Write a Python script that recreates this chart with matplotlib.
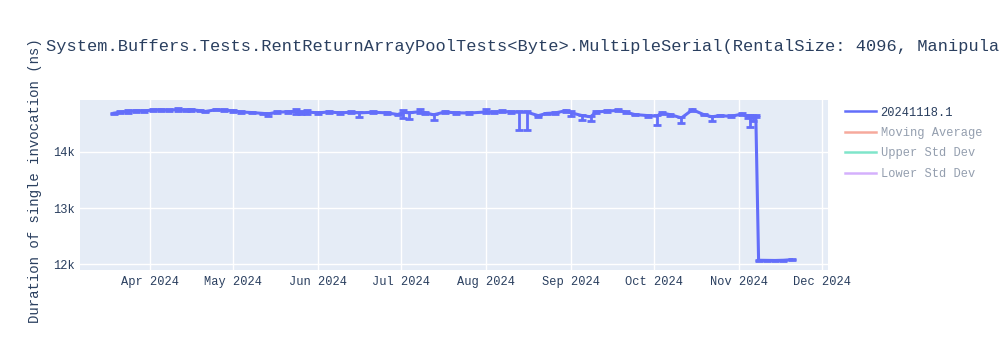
import matplotlib
matplotlib.use("Agg")
import matplotlib.pyplot as plt
import matplotlib.dates as mdates
from matplotlib.lines import Line2D
import numpy as np
import pandas as pd

# benchmark run values (ns) with the spread shown as error bars
dates = ["2024-03-19", "2024-03-21", "2024-03-24", "2024-03-27", "2024-03-30",
         "2024-04-02", "2024-04-05", "2024-04-08", "2024-04-11", "2024-04-14",
         "2024-04-16", "2024-04-19", "2024-04-21", "2024-04-25", "2024-04-28",
         "2024-05-01", "2024-05-04", "2024-05-08", "2024-05-12", "2024-05-14",
         "2024-05-17", "2024-05-21", "2024-05-24", "2024-05-26", "2024-05-28",
         "2024-06-01", "2024-06-05", "2024-06-09", "2024-06-13", "2024-06-16",
         "2024-06-21", "2024-06-26", "2024-06-30", "2024-07-02", "2024-07-04",
         "2024-07-08", "2024-07-10", "2024-07-13", "2024-07-17", "2024-07-21",
         "2024-07-26", "2024-08-01", "2024-08-04", "2024-08-07", "2024-08-10",
         "2024-08-13", "2024-08-16", "2024-08-20", "2024-08-23", "2024-08-26",
         "2024-08-30", "2024-09-01", "2024-09-05", "2024-09-08", "2024-09-10",
         "2024-09-14", "2024-09-18", "2024-09-21", "2024-09-24", "2024-09-29",
         "2024-10-02", "2024-10-04", "2024-10-07", "2024-10-11", "2024-10-15",
         "2024-10-19", "2024-10-22", "2024-10-25", "2024-10-29", "2024-11-02",
         "2024-11-04", "2024-11-05", "2024-11-06", "2024-11-07", "2024-11-08",
         "2024-11-11", "2024-11-14", "2024-11-17", "2024-11-20"]
values = [14685, 14700, 14715, 14727, 14725,
          14740, 14745, 14735, 14750, 14735,
          14745, 14730, 14714, 14745, 14735,
          14727, 14705, 14695, 14680, 14672,
          14700, 14710, 14715, 14700, 14705,
          14690, 14705, 14690, 14700, 14690,
          14700, 14690, 14660, 14700, 14690,
          14710, 14690, 14655, 14705, 14690,
          14687, 14705, 14700, 14717, 14705,
          14700, 14700, 14640, 14680, 14687,
          14728, 14690, 14640, 14620, 14705,
          14720, 14735, 14700, 14660, 14640,
          14630, 14687, 14657, 14600, 14746,
          14660, 14620, 14640, 14628, 14669,
          14620, 14640, 14610, 14640, 12072,
          12070, 12068, 12072, 12082]
err_lo = [10, 15, 20, 15, 15,
          20, 25, 15, 20, 15,
          20, 15, 15, 10, 15,
          15, 15, 10, 10, 40,
          15, 15, 40, 30, 30,
          15, 15, 15, 15, 80,
          15, 15, 15, 100, 110,
          20, 15, 100, 20, 15,
          15, 15, 15, 20, 15,
          310, 310, 25, 15, 15,
          15, 60, 70, 70, 15,
          15, 15, 15, 15, 20,
          150, 15, 15, 90, 15,
          15, 70, 15, 15, 15,
          30, 210, 70, 30, 8,
          8, 8, 8, 10]
err_hi = [10, 15, 20, 15, 15,
          20, 15, 15, 20, 15,
          15, 15, 10, 10, 15,
          15, 15, 10, 10, 10,
          15, 15, 40, 20, 30,
          15, 15, 15, 15, 15,
          15, 15, 15, 45, 15,
          50, 15, 15, 15, 15,
          15, 55, 15, 20, 15,
          20, 20, 15, 15, 15,
          15, 30, 15, 15, 15,
          15, 15, 15, 15, 20,
          15, 15, 15, 15, 15,
          15, 15, 15, 15, 15,
          30, 20, 20, 20, 8,
          8, 8, 8, 10]

series_name = "20241118.1"
hidden_series = ["Moving Average", "Upper Std Dev", "Lower Std Dev"]
hidden_colors = ["#EF553B", "#00CC96", "#AB63FA"]
# the reference title runs off the right edge; only the visible part is kept
title = "System.Buffers.Tests.RentReturnArrayPoolTests<Byte>.MultipleSerial(RentalSize: 4096, Manipula"
ylabel = "Duration of single invocation (ns)"

font = "Liberation Mono"
txt = "#2a3f5f"
blue = "#636efa"

def px(v):
    return v * 72 / 100

x = pd.to_datetime(dates)

fig = plt.figure(figsize=(10, 3.5), dpi=100)
ax = fig.add_axes([0.08, 1 - 270 / 350, 0.748, 170 / 350])
ax.set_facecolor("#E5ECF6")
for s in ax.spines.values():
    s.set_visible(False)

ax.errorbar(x, values, yerr=[err_lo, err_hi], color=blue, lw=2.2,
            elinewidth=2, capsize=3, capthick=2, zorder=3)

ax.set_xlim(pd.Timestamp("2024-03-06 14:00"), pd.Timestamp("2024-12-03 05:00"))
ax.set_ylim(11899, 14918)
ax.set_yticks([12000, 13000, 14000])
ax.set_yticklabels(["12k", "13k", "14k"])
ax.xaxis.set_major_locator(mdates.MonthLocator(bymonth=range(4, 13)))
ax.xaxis.set_major_formatter(mdates.DateFormatter("%b %Y"))
ax.grid(True, color="white", lw=1)
ax.set_axisbelow(True)
ax.tick_params(length=0, labelsize=px(12), labelcolor=txt, pad=4)
for lab in ax.get_xticklabels() + ax.get_yticklabels():
    lab.set_fontfamily(font)

fig.text(0.046, 1 - 47 / 350, title, fontsize=px(17), color=txt,
         family=font, va="center", ha="left")
fig.text(0.035, 1 - 181 / 350, ylabel, rotation=90, fontsize=px(14),
         color=txt, family=font, va="center", ha="center")

handles = [Line2D([], [], color=blue, lw=1.8)]
for c in hidden_colors:
    handles.append(Line2D([], [], color=c, lw=1.8, alpha=0.5))
leg = ax.legend(handles, [series_name] + hidden_series,
                loc="upper left", bbox_to_anchor=(0.841, 1 - 103 / 350),
                bbox_transform=fig.transFigure, frameon=False,
                prop={"family": font, "size": px(12)},
                handlelength=2.6, handletextpad=0.4, labelspacing=0.7,
                borderaxespad=0, borderpad=0.3)
for i, t in enumerate(leg.get_texts()):
    t.set_color(txt)
    if i > 0:
        t.set_alpha(0.5)

fig.savefig("out.png", dpi=100)
